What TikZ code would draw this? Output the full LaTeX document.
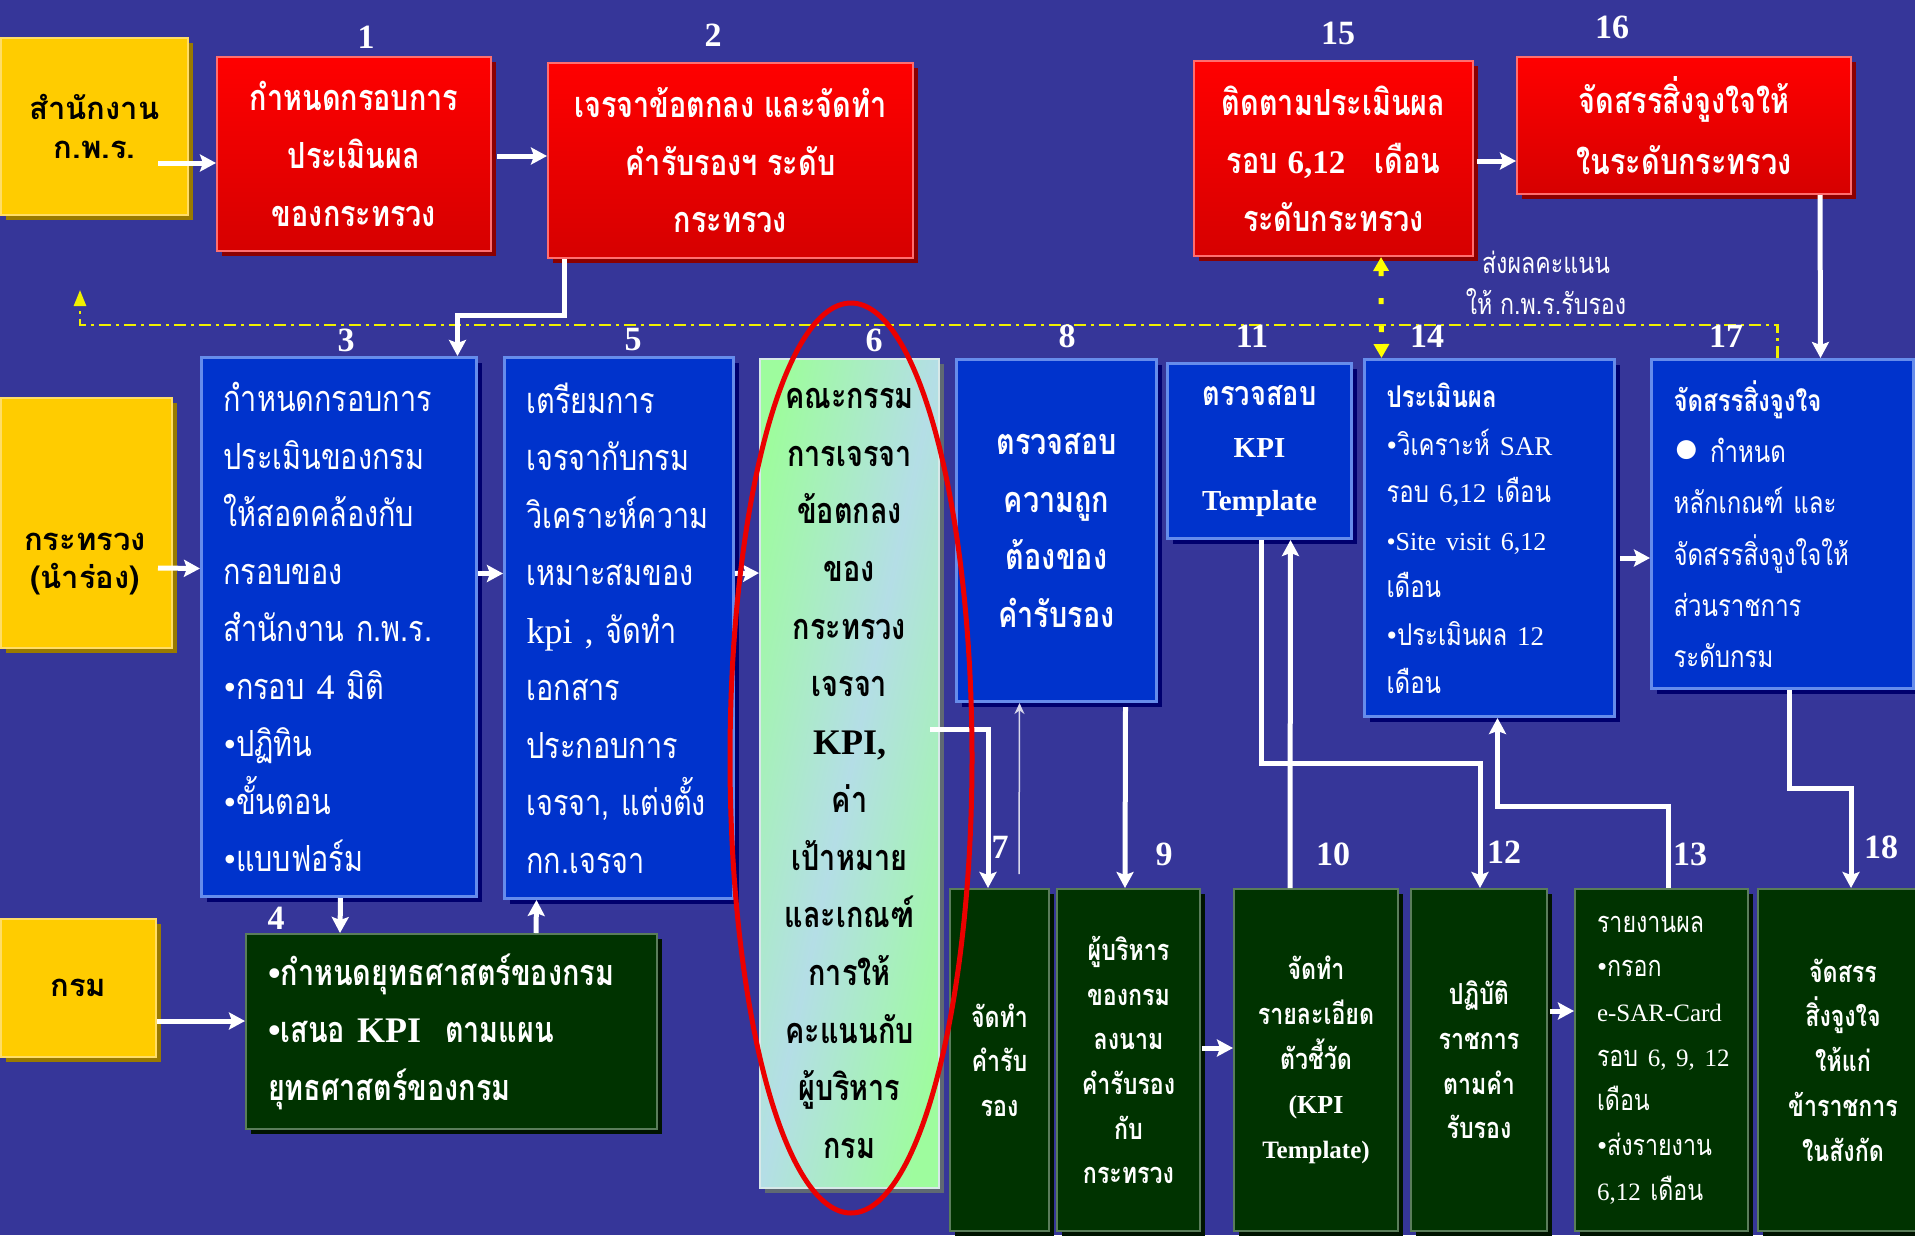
\documentclass[tikz,border=0pt]{standalone}
\usepackage{fontspec}
\setmainfont{Liberation Serif}
\newfontfamily\thai[Script=Thai,FakeStretch=0.8]{Loma}
\newfontfamily\thaiy[Script=Thai]{Loma}
\usetikzlibrary{arrows.meta,shadows,calc}
\newcommand{\lat}[1]{{\rmfamily #1}}
\newcommand{\latsz}[2]{{\rmfamily\fontsize{#1}{#1}\selectfont #2}}

\begin{document}
\begin{tikzpicture}[x=1pt,y=1pt,yscale=-1,xscale=1,
  ybox/.style={fill={rgb, 255:red, 255; green, 204; blue, 0 }, draw={rgb, 255:red, 255; green, 221; blue, 102 }, line width=2,
    drop shadow={shadow xshift=5pt,shadow yshift=-5pt,opacity=1,fill={rgb, 255:red, 153; green, 122; blue, 0 }},
    inner sep=0, align=center, font=\thaiy\bfseries\fontsize{31}{39}\selectfont},
  rbox/.style={top color={rgb, 255:red, 255; green, 0; blue, 0 }, bottom color={rgb, 255:red, 214; green, 0; blue, 0 },
    draw={rgb, 255:red, 255; green, 110; blue, 110 }, line width=2,
    drop shadow={shadow xshift=5pt,shadow yshift=-5pt,opacity=1,fill={rgb, 255:red, 140; green, 0; blue, 0 }},
    text=white, inner sep=0, align=center},
  bbox/.style={fill={rgb, 255:red, 0; green, 51; blue, 204 }, draw={rgb, 255:red, 102; green, 140; blue, 235 }, line width=3,
    drop shadow={shadow xshift=5pt,shadow yshift=-5pt,opacity=1,fill={rgb, 255:red, 0; green, 0; blue, 110 }},
    text=white, inner sep=0, align=center},
  gbox/.style={fill={rgb, 255:red, 0; green, 51; blue, 0 }, draw={rgb, 255:red, 90; green, 125; blue, 90 }, line width=2,
    drop shadow={shadow xshift=5pt,shadow yshift=-5pt,opacity=1,fill={rgb, 255:red, 0; green, 20; blue, 0 }},
    text=white, inner sep=0, align=center},
  kbox/.style={top color={rgb, 255:red, 158; green, 252; blue, 158 }, bottom color={rgb, 255:red, 158; green, 252; blue, 158 },
    middle color={rgb, 255:red, 180; green, 222; blue, 230 }, shading angle=77.8,
    draw={rgb, 255:red, 215; green, 232; blue, 232 }, line width=2,
    drop shadow={shadow xshift=5pt,shadow yshift=-5pt,opacity=1,fill={rgb, 255:red, 95; green, 105; blue, 115 }},
    text=black, inner sep=0, align=center},
  lft/.style={align=left, inner xsep=22, text width=#1},
  fs/.style 2 args={font=\thai\fontsize{#1}{#2}\selectfont},
  fsb/.style 2 args={font=\thai\bfseries\fontsize{#1}{#2}\selectfont},
  num/.style={text=white, font=\bfseries\fontsize{34}{34}\selectfont},
  arr/.style={draw=white, line width=5, -{Stealth[length=16pt,width=17pt,inset=3pt]}},
  thinarr/.style={draw={rgb, 255:red, 215; green, 215; blue, 235 }, line width=1.5, -{Stealth[length=11pt,width=10pt]}},
  ydash/.style={draw={rgb, 255:red, 255; green, 255; blue, 0 }, line width=5, dash pattern=on 6pt off 22pt,
    {Triangle[length=14pt,width=15pt]}-{Triangle[length=14pt,width=15pt]}},
  ydot/.style={draw={rgb, 255:red, 240; green, 240; blue, 0 }, line width=2.5, dash pattern=on 12pt off 5pt on 3pt off 5pt,
    -{Triangle[length=16pt,width=12pt]}},
  ring/.style={draw={rgb, 255:red, 235; green, 0; blue, 0 }, line width=5}
]
\useasboundingbox (0,0) rectangle (1915,1235);
%Shape: Rectangle [background]
\fill [fill={rgb, 255:red, 54; green, 54; blue, 153 }] (0,0) rectangle (1915,1235);

%Straight Lines [dash dot, back to the office]
\coordinate (kpr) at (80,290);

%Shape: Rectangle [offices]
\node [ybox, anchor=north west, minimum width=187, minimum height=177] (A) at (0,37) {สำนักงาน\\ก.พ.ร.};
\node [ybox, anchor=north west, minimum width=171, minimum height=250] (B) at (0,397) {};
\node [ybox, anchor=north west, minimum width=155, minimum height=138] (C) at (0,918) {กรม};
% Text Node
\node [align=center, inner sep=0, font=\thaiy\bfseries\fontsize{31}{38}\selectfont] (Bt) at (85,564) {กระทรวง\\(นำร่อง)};

%Shape: Rectangle [ministry level]
\node [rbox, fsb={36}{58}, anchor=north west, minimum width=274, minimum height=194] (b1) at (216,56) {กำหนดกรอบการ\\ประเมินผล\\ของกระทรวง};
\node [rbox, fsb={36}{57.5}, anchor=north west, minimum width=365, minimum height=195] (b2) at (547,62) {เจรจาข้อตกลง และจัดทำ\\คำรับรองฯ ระดับ\\กระทรวง};
\node [rbox, fsb={36}{58}, anchor=north west, minimum width=279, minimum height=195] (b15) at (1193,60) {ติดตามประเมินผล\\รอบ \latsz{33}{6,12}\ \ \ เดือน\\ระดับกระทรวง};
\node [rbox, fsb={36}{61}, anchor=north west, minimum width=334, minimum height=137] (b16) at (1516,56) {จัดสรรสิ่งจูงใจให้\\ในระดับกระทรวง};

%Shape: Rectangle [pilot row]
\node [bbox, lft=231, fs={36}{57.5}, anchor=north west, minimum width=275, minimum height=539] (b3) at (200,356)
  {กำหนดกรอบการ\\ประเมินของกรม\\ให้สอดคล้องกับ\\กรอบของ\\สำนักงาน~ก.พ.ร.\\\lat{•}กรอบ~\lat{4}~มิติ\\\lat{•}ปฏิทิน\\\lat{•}ขั้นตอน\\\lat{•}แบบฟอร์ม};
\node [bbox, lft=185, fs={36}{57.5}, anchor=north west, minimum width=229, minimum height=541] (b5) at (503,356)
  {เตรียมการ\\เจรจากับกรม\\วิเคราะห์ความ\\เหมาะสมของ\\\lat{kpi~,}~จัดทำ\\เอกสาร\\ประกอบการ\\เจรจา,~แต่งตั้ง\\กก.เจรจา};
\node [kbox, fsb={36}{57.7}, anchor=north west, minimum width=179, minimum height=829] (b6) at (759,358)
  {คณะกรรม\\การเจรจา\\ข้อตกลง\\ของ\\กระทรวง\\เจรจา\\\lat{KPI,}\\ค่า\\เป้าหมาย\\และเกณฑ์\\การให้\\คะแนนกับ\\ผู้บริหาร\\กรม};
\node [bbox, fsb={36}{57.6}, anchor=north west, minimum width=200, minimum height=342] (b8) at (955,358) {ตรวจสอบ\\ความถูก\\ต้องของ\\คำรับรอง};
\node [bbox, fsb={34}{52.5}, anchor=north west, minimum width=184, minimum height=175] (b11) at (1166,362) {ตรวจสอบ\\\latsz{29}{KPI}\\\latsz{29}{Template}};
\node [bbox, lft=206, fs={30}{47.6}, anchor=north west, minimum width=250, minimum height=357] (b14) at (1363,358)
  {{\bfseries ประเมินผล}\\\lat{•}วิเคราะห์~\latsz{27}{SAR}\\รอบ~\latsz{27}{6,12}~เดือน\\\latsz{26}{•Site~visit~6,12}\\เดือน\\\lat{•}ประเมินผล~\latsz{27}{12}\\เดือน};
\node [bbox, lft=218, fs={30}{51.3}, anchor=north west, minimum width=262, minimum height=329] (b17) at (1650,358)
  {{\bfseries จัดสรรสิ่งจูงใจ}\\\latsz{44}{●}~กำหนด\\หลักเกณฑ์~และ\\จัดสรรสิ่งจูงใจให้\\ส่วนราชการ\\ระดับกรม};

%Shape: Rectangle [department row]
\node [gbox, lft=367, fsb={36}{57.4}, anchor=north west, minimum width=411, minimum height=195] (b4) at (245,933)
  {\lat{•}กำหนดยุทธศาสตร์ของกรม\\\lat{•}เสนอ~\lat{KPI}~~ตามแผน\\ยุทธศาสตร์ของกรม};
\node [gbox, fsb={29}{44.7}, anchor=north west, minimum width=99, minimum height=342] (b7) at (949,888) {จัดทำ\\คำรับ\\รอง};
\node [gbox, fsb={29}{44.7}, anchor=north west, minimum width=143, minimum height=342] (b9) at (1056,888) {ผู้บริหาร\\ของกรม\\ลงนาม\\คำรับรอง\\กับ\\กระทรวง};
\node [gbox, fsb={29}{44.7}, anchor=north west, minimum width=164, minimum height=342] (b10) at (1233,888) {จัดทำ\\รายละเอียด\\ตัวชี้วัด\\\latsz{26}{(KPI}\\\latsz{25}{Template)}};
\node [gbox, fsb={29}{44.7}, anchor=north west, minimum width=136, minimum height=342] (b12) at (1410,888) {ปฏิบัติ\\ราชการ\\ตามคำ\\รับรอง};
\node [gbox, lft=129, fs={29}{44.7}, anchor=north west, minimum width=173, minimum height=342] (b13) at (1574,888)
  {รายงานผล\\\lat{•}กรอก\\\latsz{25}{\mbox{e-SAR-Card}}\\รอบ~\latsz{25}{6,~9,~12}\\เดือน\\\lat{•}ส่งรายงาน\\\latsz{25}{6,12}~เดือน};
\node [gbox, fsb={29}{44.7}, anchor=north west, minimum width=170, minimum height=342] (b18) at (1757,888) {จัดสรร\\สิ่งจูงใจ\\ให้แก่\\ข้าราชการ\\ในสังกัด};

%Straight Lines [dash dot]
\draw [ydot] ($(b17.north)+(-5,0)$) -- ++(0,-33) -| (kpr);
%Straight Lines [dashed, scores]
\draw [ydash] ($(b15.south)+(47.5,0)$) -- ($(b14.north)+(-108,0)$);

%Straight Lines
\draw [arr] ($(A.east)+(-31,36.5)$) -- ($(b1.west)+(0,9)$);
\draw [arr] ($(b1.east)+(5,2)$) -- ($(b2.west)+(0,-4.5)$);
\draw [arr] ($(b2.south)+(-166.5,0)$) -- ++(0,56) -| ($(b3.north)+(118.5,0)$);
\draw [arr] ($(B.east)+(-15,45)$) -- ($(b3.west)+(0,-58.5)$);
\draw [arr] ($(b3.east)+(0,-53.5)$) -- ($(b5.west)+(0,-54.5)$);
\draw [arr] ($(b5.east)+(0,-54.5)$) -- ($(b6.west)+(0,-200.5)$);
\draw [arr] ($(C.east)+(0,33)$) -- ($(b4.west)+(0,-10.5)$);
\draw [arr] ($(b3.south)+(1.5,0)$) -- ($(b4.north)+(-111.5,0)$);
\draw [arr] ($(b4.north)+(84.5,0)$) -- ($(b5.south)+(-82.5,0)$);
\draw [arr] ($(b6.east)+(-10,-44.5)$) -| ($(b7.north)+(-11.5,0)$);
\draw [thinarr] ($(b7.north)+(19.5,-14)$) -- ($(b8.south)+(-37,0)$);
\draw [arr] ($(b8.south)+(69,4)$) -- ($(b9.north)+(-3.5,0)$);
\draw [arr] ($(b9.east)+(1,-12)$) -- ($(b10.west)+(0,-12)$);
\draw [arr] ($(b10.north)+(-26,0)$) -- ($(b11.south)+(31,0)$);
\draw [arr] ($(b11.south)+(2,0)$) |- ($(b12.north)+(1,-125)$) -- ($(b12.north)+(1,0)$);
\draw [arr] ($(b12.east)+(2,-49)$) -- ($(b13.west)+(0,-49)$);
\draw [arr] ($(b13.north)+(6.5,0)$) |- ($(b14.south)+(8,88)$) -- ($(b14.south)+(8,0)$);
\draw [arr] ($(b14.east)+(4,20)$) -- ($(b17.west)+(0,34)$);
\draw [arr] ($(b15.east)+(3,2.5)$) -- ($(b16.west)+(0,35.5)$);
\draw [arr] ($(b16.south)+(136,0)$) -- ($(b17.north)+(38,0)$);
\draw [arr] ($(b17.south)+(7,0)$) |- ($(b18.north)+(8,-100)$) -- ($(b18.north)+(8,0)$);

%Shape: Ellipse
\draw [ring] (851,758) ellipse [x radius=121, y radius=455];

% Text Node
\node [text=white, fs={29}{41}, align=center] (lbl) at (1546,283) {ส่งผลคะแนน\\ให้ ก.พ.ร.รับรอง};
% Text Node
\node [num] (n1) at (366,37) {1};
\node [num] (n2) at (713,35) {2};
\node [num] (n15) at (1338,33) {15};
\node [num] (n16) at (1612,27) {16};
\node [num] (n3) at (346,340) {3};
\node [num] (n5) at (633,340) {5};
\node [num] (n6) at (874,340) {6};
\node [num] (n8) at (1067,336) {8};
\node [num] (n11) at (1252,336) {11};
\node [num] (n14) at (1427,336) {14};
\node [num] (n17) at (1726,336) {17};
\node [num] (n4) at (276,918) {4};
\node [num] (n7) at (1000,847) {7};
\node [num] (n9) at (1164,854) {9};
\node [num] (n10) at (1333,854) {10};
\node [num] (n12) at (1504,852) {12};
\node [num] (n13) at (1690,854) {13};
\node [num] (n18) at (1881,847) {18};

\end{tikzpicture}
\end{document}
